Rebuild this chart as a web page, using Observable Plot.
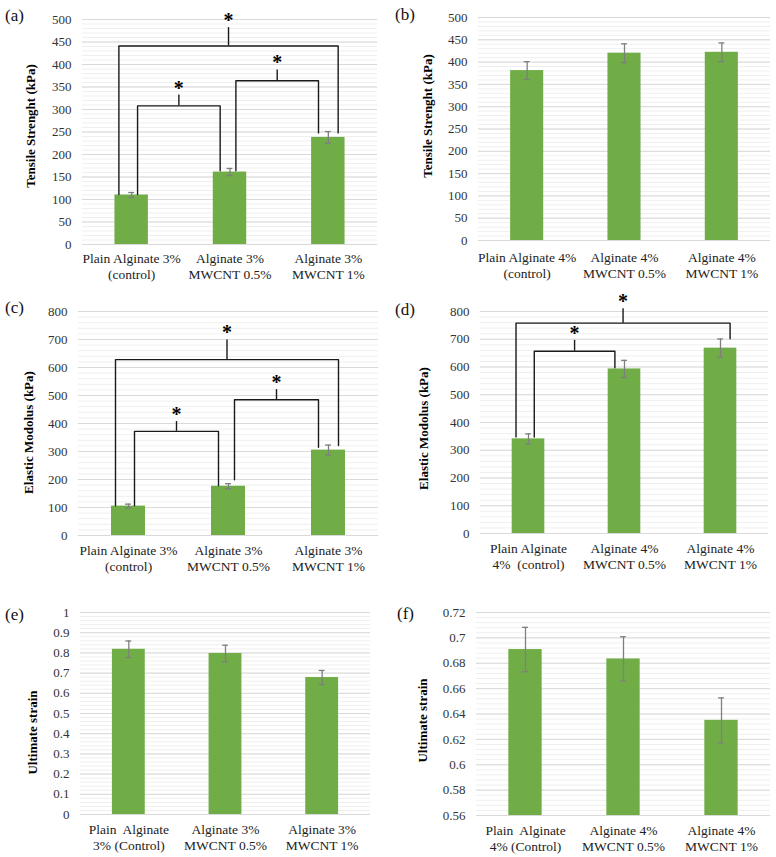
<!DOCTYPE html>
<html><head><meta charset="utf-8">
<script src="https://cdn.jsdelivr.net/npm/d3@7"></script>
<script src="https://cdn.jsdelivr.net/npm/@observablehq/plot@0.6"></script>
<style>
body{margin:0;background:#fff;}
#fig{position:relative;width:776px;height:857px;font-family:"Liberation Serif",serif;overflow:hidden;}
.panel{position:absolute;}
.tag{position:absolute;font-size:17px;line-height:17px;color:#111;font-family:"Liberation Serif",serif;}
</style></head><body><div id="fig"></div>
<script>
// ---- categories / tick labels ----
const labelsA = ["Plain Alginate 3%\n(control)", "Alginate 3%\nMWCNT 0.5%", "Alginate 3%\nMWCNT 1%"];
const labelsB = ["Plain Alginate 4%\n(control)", "Alginate 4%\nMWCNT 0.5%", "Alginate 4%\nMWCNT 1%"];
const labelsD = ["Plain Alginate\n4%  (control)", "Alginate 4%\nMWCNT 0.5%", "Alginate 4%\nMWCNT 1%"];
const labelsE = ["Plain  Alginate\n3% (Control)", "Alginate 3%\nMWCNT 0.5%", "Alginate 3%\nMWCNT 1%"];
const labelsF = ["Plain  Alginate\n4% (Control)", "Alginate 4%\nMWCNT 0.5%", "Alginate 4%\nMWCNT 1%"];

// ---- values (mean) and error (±) ----
const tensile3 = [110, 161, 238];
const tensile3Err = [5.5, 8, 13];
const tensile4 = [381, 420, 422];
const tensile4Err = [20, 21, 21];
const modulus3 = [105, 176, 305];
const modulus3Err = [7, 9, 18];
const modulus4 = [341, 593, 668];
const modulus4Err = [18, 31, 33];
const strain3 = [0.818, 0.797, 0.678];
const strain3Err = [0.041, 0.041, 0.035];
const strain4 = [0.6908, 0.6834, 0.635];
const strain4Err = [0.0175, 0.0175, 0.0177];

// ---- significance brackets: [from, to, legBottomFrom, legBottomTo, level, tickTop] ----
const bracketsA = [[0, 1, 111, 164, 308, 332], [1, 2, 164, 248, 364, 388], [0, 2, 111, 248, 441, 482]];
const bracketsC = [[0, 1, 106, 178, 372, 407], [1, 2, 199, 315, 485, 521], [0, 2, 106, 321, 628, 698]];
const bracketsD = [[0, 1, 348, 597, 657, 696], [0, 2, 348, 702, 758, 810]];

const fig = document.getElementById("fig");
const fmt = d => String(+(+d).toFixed(3));

function panel(o) {
  const data = o.values.map((v, i) => ({i, v, e: o.errors[i]}));
  const [lo, hi] = o.domain;
  const nMaj = Math.round((hi - lo) / o.step);
  const nMin = Math.round((hi - lo) / o.minor);
  const majors = d3.range(nMaj + 1).map(k => lo + k * o.step);
  const minors = d3.range(nMin + 1).map(k => lo + k * o.minor);
  const lines = [], ticks = [];
  (o.brackets || []).forEach((b, k) => {
    const [a, c, ya, yc, level, top] = b;
    const la = c - a === 1 ? a + 0.06 : a - 0.13;
    const lc = c - a === 1 ? c - 0.1 : c + 0.1;
    lines.push({k, x: la, y: ya}, {k, x: la, y: level}, {k, x: lc, y: level}, {k, x: lc, y: yc});
    ticks.push({x: (la + lc) / 2, y1: level, y2: top});
  });
  const [mt, mr, mb, ml] = o.margins;
  const p = Plot.plot({
    width: o.width, height: o.height,
    marginTop: mt, marginRight: mr, marginBottom: mb, marginLeft: ml,
    style: {background: "transparent", overflow: "visible", fontFamily: "Liberation Serif, serif"},
    x: {domain: [-0.5, 2.5]},
    y: {domain: [lo, hi]},
    marks: [
      Plot.ruleY(minors, {stroke: "#efefef", strokeWidth: 1}),
      Plot.ruleY(majors, {stroke: "#d9d9d9", strokeWidth: 1}),
      Plot.rect(data, {x1: d => d.i - 0.17, x2: d => d.i + 0.17, y1: () => lo, y2: d => d.v, fill: "#70ad47"}),
      Plot.ruleX(data, {x: "i", y1: d => d.v - d.e, y2: d => d.v + d.e, stroke: "#7f7f7f", strokeWidth: 1.3}),
      Plot.ruleY(data, {x1: d => d.i - 0.03, x2: d => d.i + 0.03, y: d => d.v + d.e, stroke: "#7f7f7f", strokeWidth: 1.3}),
      Plot.ruleY(data, {x1: d => d.i - 0.03, x2: d => d.i + 0.03, y: d => d.v - d.e, stroke: "#7f7f7f", strokeWidth: 1.3}),
      Plot.line(lines, {x: "x", y: "y", z: "k", stroke: "#1a1a1a", strokeWidth: 1.4, curve: "linear"}),
      Plot.ruleX(ticks, {x: "x", y1: "y1", y2: "y2", stroke: "#1a1a1a", strokeWidth: 1.4}),
      Plot.text(ticks, {x: "x", y: "y2", text: () => "*", dy: -7, fontSize: 20, fontWeight: "bold", fill: "#000"}),
      Plot.axisY({ticks: majors, tickSize: 0, tickPadding: 11, tickFormat: fmt, fontSize: 13, fill: "#333", label: null}),
      Plot.axisX({ticks: [0, 1, 2], tickFormat: i => o.labels[i], tickSize: 0, tickPadding: o.xpad ?? 8, fontSize: 13.5, lineHeight: 1.18, fill: "#222", label: null}),
      Plot.text([o.yLabel], {frameAnchor: "left", dx: o.ylab[0], dy: o.ylab[1], rotate: -90, textAnchor: "middle", fontWeight: "bold", fontSize: 13, fill: "#000"})
    ]
  });
  p.classList.add("panel");
  p.style.left = o.left + "px";
  p.style.top = o.top + "px";
  fig.appendChild(p);
  const t = document.createElement("div");
  t.className = "tag";
  t.textContent = o.tag;
  t.style.left = o.tagPos[0] + "px";
  t.style.top = o.tagPos[1] + "px";
  fig.appendChild(t);
}

panel({values: tensile3, errors: tensile3Err, labels: labelsA, yLabel: "Tensile Strenght (kPa)", domain: [0, 500], step: 50, minor: 10,
  brackets: bracketsA, left: 0, top: 0, width: 388, height: 290, margins: [19, 11, 46, 82], ylab: [-52, -6], tag: "(a)", tagPos: [5, 7], xpad: 7});
panel({values: tensile4, errors: tensile4Err, labels: labelsB, yLabel: "Tensile Strenght (kPa)", domain: [0, 500], step: 50, minor: 10,
  left: 388, top: 0, width: 388, height: 290, margins: [17, 6, 50, 90], ylab: [-51, -13], tag: "(b)", tagPos: [395, 6], xpad: 10});
panel({values: modulus3, errors: modulus3Err, labels: labelsA, yLabel: "Elastic Modolus (kPa)", domain: [0, 800], step: 100, minor: 20,
  brackets: bracketsC, left: 0, top: 290, width: 388, height: 290, margins: [21, 10, 45, 78], ylab: [-50, 9], tag: "(c)", tagPos: [5, 299]});
panel({values: modulus4, errors: modulus4Err, labels: labelsD, yLabel: "Elastic Modolus (kPa)", domain: [0, 800], step: 100, minor: 20,
  brackets: bracketsD, left: 388, top: 290, width: 388, height: 290, margins: [21, 8, 47, 92], ylab: [-57, 6], tag: "(d)", tagPos: [395, 301]});
panel({values: strain3, errors: strain3Err, labels: labelsE, yLabel: "Ultimate strain", domain: [0, 1], step: 0.1, minor: 0.02,
  left: 0, top: 580, width: 388, height: 277, margins: [32, 18, 43, 80], ylab: [-48, 19], tag: "(e)", tagPos: [5, 606]});
panel({values: strain4, errors: strain4Err, labels: labelsF, yLabel: "Ultimate strain", domain: [0.56, 0.72], step: 0.02, minor: 0.004,
  left: 388, top: 580, width: 388, height: 277, margins: [32, 6, 42, 88], ylab: [-54, 6.5], tag: "(f)", tagPos: [397, 605]});
</script></body></html>
